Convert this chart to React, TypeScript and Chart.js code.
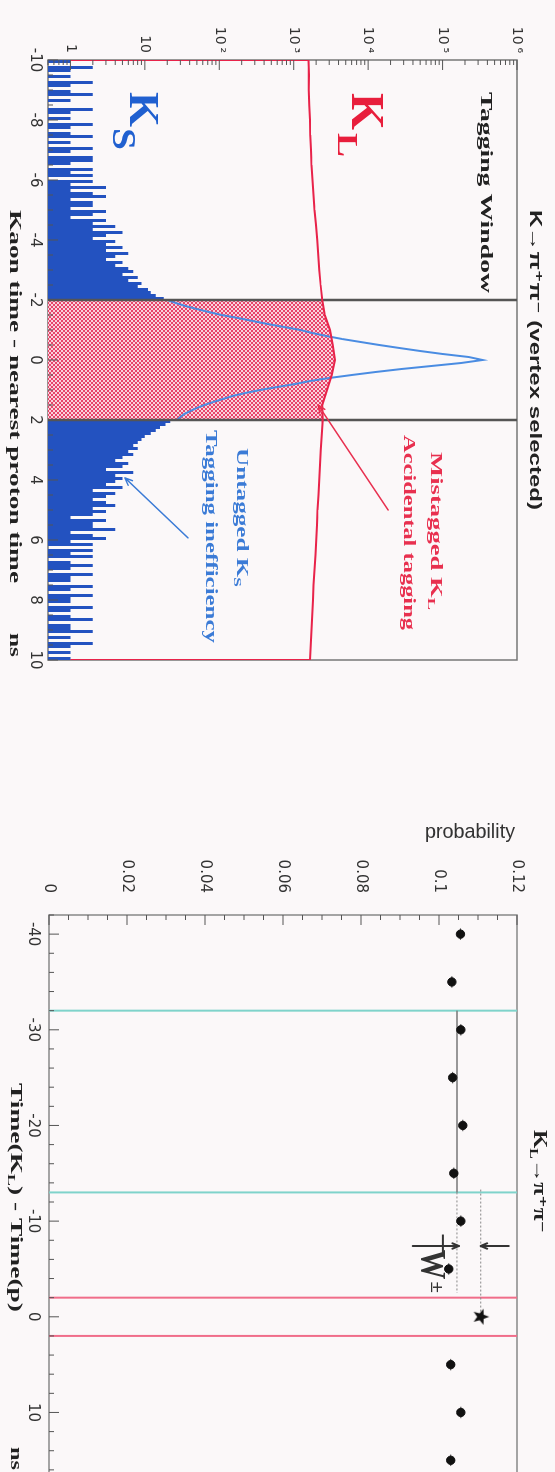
import React, { useEffect, useRef } from "react";
import { Chart, registerables } from "chart.js";
Chart.register(...registerables);

// ---------------- Top panel: K -> pi+ pi- (vertex selected) ----------------
const KS_BIN = 0.1;
const KS_LEFT_START = -10;
const KS_LEFT_COUNTS = [
  1, 0, 2, 1, 0, 1, 0, 2, 1, 0,
  1, 2, 0, 1, 0, 0, 2, 1, 0, 1,
  0, 2, 1, 0, 1, 2, 0, 1, 0, 2,
  1, 0, 2, 2, 1, 0, 2, 1, 2, 0,
  2, 1, 3, 1, 2, 3, 1, 2, 2, 1,
  3, 2, 1, 3, 2, 4, 2, 5, 3, 2,
  4, 3, 5, 3, 6, 4, 3, 5, 4, 6,
  7, 5, 8, 6, 9, 8, 11, 12, 14, 18,
];
const KS_RIGHT_START = 2;
const KS_RIGHT_COUNTS = [
  22, 19, 16, 14, 12, 10, 9, 8, 7, 8,
  6, 7, 5, 4, 6, 5, 3, 7, 4, 5,
  4, 3, 5, 2, 4, 3, 2, 3, 4, 2,
  3, 2, 1, 3, 2, 2, 4, 1, 2, 3,
  1, 2, 0, 2, 1, 2, 0, 1, 2, 1,
  0, 2, 1, 1, 0, 2, 1, 0, 2, 1,
  1, 0, 2, 1, 0, 1, 2, 0, 1, 1,
  2, 0, 1, 0, 2, 1, 0, 1, 0, 1,
];
const KS_PEAK_START = -2;
const KS_PEAK_STEP = 0.1;
const KS_PEAK_VALUES = [
  20, 26, 35, 50, 72, 107, 178, 282, 447, 741,
  1230, 1780, 2750, 4470, 7940, 14100, 26300, 50100, 100000, 224000,
  345000,
  178000, 70800, 28200, 12600, 6030, 3020, 1660, 1050, 603, 355,
  224, 151, 112, 83, 63, 50, 41, 34, 30, 27,
];
const KL_START = -10;
const KL_STEP = 0.5;
const KL_VALUES = [
  1580, 1600, 1590, 1620, 1650, 1670, 1710, 1740, 1790, 1840,
  1900, 1990, 2070, 2140, 2210, 2300, 2420, 2620, 3080, 3350,
  3580,
  3250, 2800, 2420, 2460, 2380, 2310, 2250, 2200, 2150, 2090,
  2060, 2010, 1960, 1900, 1850, 1810, 1770, 1730, 1700, 1660,
];
const WINDOW = [-2, 2];
const TOP_X_TICKS = [-10, -8, -6, -4, -2, 0, 2, 4, 6, 8, 10];
const TOP_Y_TICKS = [1, 10, 100, 1000, 10000, 100000, 1000000];
const TOP_Y_LABELS = ["1", "10", "10\u2009²", "10\u2009³", "10\u2009⁴", "10\u2009⁵", "10\u2009⁶"];
const LOG_MIN = 0.5;
const LOG_MAX = 1000000;

// ---------------- Bottom panel: KL -> pi+ pi- probability ----------------
const PROB_TIMES = [-40, -35, -30, -25, -20, -15, -10, -5, 5, 10, 15];
const PROB_VALUES = [0.1055, 0.1033, 0.1056, 0.1035, 0.1061, 0.1038, 0.1056, 0.1025, 0.103, 0.1056, 0.103];
const TIME_ERR = 0.6;
const STAR_TIME = 0;
const STAR_PROB = 0.1107;
const FIT_LEVEL = 0.1046;
const SIDEBAND = [-32, -13];
const SIGNAL = [-2, 2];
const BOT_X_TICKS = [-40, -30, -20, -10, 0, 10];
const BOT_Y_TICKS = [0, 0.02, 0.04, 0.06, 0.08, 0.1, 0.12];
const BOT_Y_LABELS = ["0", "0.02", "0.04", "0.06", "0.08", "0.1", "0.12"];

const SERIF = '"Liberation Serif", "DejaVu Serif", serif';
const SANS = '"Liberation Sans", "DejaVu Sans", sans-serif';
const TICKFONT = '"DejaVu Sans", "Liberation Sans", sans-serif';

type Seg = { t: string; size: number; dy?: number };

function drawRich(ctx: any, segs: Seg[], x0: number, x1: number, baseline: number, color: string, family: string, bold = true) {
  ctx.save();
  ctx.fillStyle = color;
  ctx.textBaseline = "alphabetic";
  ctx.textAlign = "left";
  const widths: number[] = [];
  let total = 0;
  for (const s of segs) {
    ctx.font = `${bold ? "bold " : ""}${s.size}px ${family}`;
    const w = ctx.measureText(s.t).width;
    widths.push(w);
    total += w;
  }
  const sx = (x1 - x0) / total;
  ctx.translate(x0, baseline);
  ctx.scale(sx, 1);
  let x = 0;
  segs.forEach((s, i) => {
    ctx.font = `${bold ? "bold " : ""}${s.size}px ${family}`;
    ctx.fillText(s.t, x, s.dy || 0);
    x += widths[i];
  });
  ctx.restore();
}

function drawArrow(ctx: any, x0: number, y0: number, x1: number, y1: number, color: string, width: number, head: number) {
  ctx.save();
  ctx.strokeStyle = color;
  ctx.lineWidth = width;
  ctx.lineCap = "round";
  ctx.beginPath();
  ctx.moveTo(x0, y0);
  ctx.lineTo(x1, y1);
  const a = Math.atan2(y1 - y0, x1 - x0);
  ctx.moveTo(x1, y1);
  ctx.lineTo(x1 - head * Math.cos(a - 0.4), y1 - head * Math.sin(a - 0.4));
  ctx.moveTo(x1, y1);
  ctx.lineTo(x1 - head * Math.cos(a + 0.4), y1 - head * Math.sin(a + 0.4));
  ctx.stroke();
  ctx.restore();
}

function drawInwardTicks(chart: any, xt: { v: number; major: boolean }[], yt: { v: number; major: boolean }[]) {
  const { ctx, chartArea: a, scales } = chart;
  const xs = scales.x;
  const ys = scales.y;
  ctx.save();
  ctx.strokeStyle = "#555";
  ctx.lineWidth = 1;
  ctx.beginPath();
  for (const t of xt) {
    const p = xs.getPixelForValue(t.v);
    if (p < a.left - 0.5 || p > a.right + 0.5) continue;
    const L = t.major ? 10 : 5;
    ctx.moveTo(p, a.bottom);
    ctx.lineTo(p, a.bottom - L);
  }
  for (const t of yt) {
    const p = ys.getPixelForValue(t.v);
    if (p < a.top - 0.5 || p > a.bottom + 0.5) continue;
    const L = t.major ? 10 : 5;
    ctx.moveTo(a.left, p);
    ctx.lineTo(a.left + L, p);
  }
  ctx.stroke();
  ctx.restore();
}

function drawFrame(chart: any, color: string) {
  const { ctx, chartArea: a } = chart;
  ctx.save();
  ctx.strokeStyle = color;
  ctx.lineWidth = 1.5;
  ctx.strokeRect(a.left, a.top, a.right - a.left, a.bottom - a.top);
  ctx.restore();
}

function makeHatch(ctx: any) {
  const c = document.createElement("canvas");
  c.width = 4;
  c.height = 4;
  const g = c.getContext("2d")!;
  g.fillStyle = "#f8d3dc";
  g.fillRect(0, 0, 4, 4);
  g.fillStyle = "#e8436a";
  g.fillRect(0, 0, 2, 2);
  g.fillRect(2, 2, 2, 2);
  return ctx.createPattern(c, "repeat");
}

function makeStar() {
  const c = document.createElement("canvas");
  c.width = 18;
  c.height = 18;
  const g = c.getContext("2d")!;
  g.fillStyle = "#111";
  g.beginPath();
  for (let i = 0; i < 10; i++) {
    const r = i % 2 === 0 ? 8.5 : 3.6;
    const a = -Math.PI / 2 + (i * Math.PI) / 5;
    g.lineTo(9 + r * Math.cos(a), 9 + r * Math.sin(a));
  }
  g.closePath();
  g.fill();
  return c;
}

const baseOptions = {
  animation: false,
  responsive: false,
  events: [],
  plugins: { legend: { display: false }, tooltip: { enabled: false } },
  elements: { point: { radius: 0 }, line: { tension: 0 } },
};

const noGrid = { display: false, drawTicks: false };

function buildTop(canvas: HTMLCanvasElement) {
  const ctx = canvas.getContext("2d")!;
  const hatch = makeHatch(ctx);
  const ksLeft = KS_LEFT_COUNTS.map((c, i) => ({ x: KS_LEFT_START + i * KS_BIN, y: c > 0 ? c : LOG_MIN }));
  ksLeft.push({ x: KS_LEFT_START + KS_LEFT_COUNTS.length * KS_BIN, y: ksLeft[ksLeft.length - 1].y });
  const ksRight = KS_RIGHT_COUNTS.map((c, i) => ({ x: KS_RIGHT_START + i * KS_BIN, y: c > 0 ? c : LOG_MIN }));
  ksRight.push({ x: KS_RIGHT_START + KS_RIGHT_COUNTS.length * KS_BIN, y: ksRight[ksRight.length - 1].y });
  const ksPeak = KS_PEAK_VALUES.map((v, i) => ({ x: KS_PEAK_START + i * KS_PEAK_STEP, y: v }));
  const kl = KL_VALUES.map((v, i) => ({ x: KL_START + i * KL_STEP, y: v }));
  const klLine = [{ x: kl[0].x, y: 1 }, ...kl, { x: kl[kl.length - 1].x, y: 1 }];
  const hatchData = kl.filter((p) => p.x >= WINDOW[0] - 1e-9 && p.x <= WINDOW[1] + 1e-9);

  const xt: { v: number; major: boolean }[] = [];
  for (let v = -10; v <= 10.001; v += 0.5) xt.push({ v, major: Math.abs(v / 2 - Math.round(v / 2)) < 1e-6 });
  const yt: { v: number; major: boolean }[] = [];
  for (let e = -1; e <= 5; e++) for (let m = 1; m <= 9; m++) {
    const v = m * Math.pow(10, e);
    if (v >= LOG_MIN && v <= LOG_MAX) yt.push({ v, major: m === 1 });
  }
  yt.push({ v: LOG_MAX, major: true });

  const decor = {
    id: "decorTop",
    beforeDatasetsDraw(chart: any) {
      drawFrame(chart, "#777");
    },
    afterDatasetsDraw(chart: any) {
      const c = chart.ctx;
      const xs = chart.scales.x;
      const ys = chart.scales.y;
      drawInwardTicks(chart, xt, yt);
      drawRich(c, [{ t: "K→π⁺π⁻ (vertex selected)", size: 17 }], 210, 510, 25, "#222", SANS);
      drawRich(c, [{ t: "Tagging Window", size: 17 }], 92, 293, 74, "#222", SERIF);
      drawRich(c, [{ t: "K", size: 47 }], 93, 130, 203, "#e81e3c", SERIF);
      drawRich(c, [{ t: "L", size: 29 }], 133, 157, 217, "#e81e3c", SERIF);
      drawRich(c, [{ t: "K", size: 42 }], 92, 127, 425, "#2060d0", SERIF);
      drawRich(c, [{ t: "S", size: 33 }], 128, 150, 442, "#2060d0", SERIF);
      drawRich(c, [{ t: "Mistagged K", size: 16 }, { t: "L", size: 11, dy: 3 }], 452, 610, 124, "#e8304f", SERIF);
      drawRich(c, [{ t: "Accidental tagging", size: 17 }], 435, 630, 151, "#e8304f", SERIF);
      drawRich(c, [{ t: "Untagged K", size: 16 }, { t: "S", size: 11, dy: 3 }], 448, 587, 318, "#3b7bd6", SERIF);
      drawRich(c, [{ t: "Tagging inefficiency", size: 17 }], 430, 643, 349, "#3b7bd6", SERIF);
      drawRich(c, [{ t: "Kaon time - nearest proton time", size: 17 }], 210, 583, 545, "#222", SERIF);
      drawRich(c, [{ t: "ns", size: 17 }], 633, 657, 545, "#222", SERIF);
      drawArrow(c, xs.getPixelForValue(5.0), ys.getPixelForValue(18600), xs.getPixelForValue(1.5), ys.getPixelForValue(2130), "#e8304f", 1.5, 8);
      drawArrow(c, xs.getPixelForValue(5.93), ys.getPixelForValue(38), xs.getPixelForValue(3.93), ys.getPixelForValue(5.4), "#3b7bd6", 1.5, 8);
    },
  };

  return new Chart(canvas, {
    type: "line",
    data: {
      datasets: [
        { data: klLine, borderColor: "#e8234a", borderWidth: 2, fill: false, order: 0 },
        { data: [{ x: WINDOW[0], y: LOG_MIN }, { x: WINDOW[0], y: LOG_MAX }], borderColor: "#555", borderWidth: 2.5, order: 1 },
        { data: [{ x: WINDOW[1], y: LOG_MIN }, { x: WINDOW[1], y: LOG_MAX }], borderColor: "#555", borderWidth: 2.5, order: 1 },
        { data: ksPeak, borderColor: "#4a8ce2", borderWidth: 2, fill: false, order: 2 },
        { data: hatchData, borderWidth: 0, borderColor: "rgba(0,0,0,0)", backgroundColor: hatch, fill: "start", order: 3 },
        { data: ksLeft, stepped: true, borderWidth: 0, borderColor: "rgba(0,0,0,0)", backgroundColor: "#2352c0", fill: "start", order: 4 },
        { data: ksRight, stepped: true, borderWidth: 0, borderColor: "rgba(0,0,0,0)", backgroundColor: "#2352c0", fill: "start", order: 4 },
      ],
    },
    options: {
      ...baseOptions,
      layout: { padding: { left: 0, right: 40, top: 38, bottom: 0 } },
      scales: {
        x: {
          type: "linear",
          min: -10,
          max: 10,
          grid: noGrid,
          border: { display: false },
          afterBuildTicks: (s: any) => { s.ticks = TOP_X_TICKS.map((v) => ({ value: v })); },
          afterFit: (s: any) => { s.height = 48; },
          ticks: { font: { family: TICKFONT, size: 15 }, color: "#333", padding: 4, maxRotation: 0, minRotation: 0, autoSkip: false, callback: (v: any) => String(v) },
        },
        y: {
          type: "logarithmic",
          min: LOG_MIN,
          max: LOG_MAX,
          grid: noGrid,
          border: { display: false },
          afterBuildTicks: (s: any) => { s.ticks = TOP_Y_TICKS.map((v) => ({ value: v })); },
          afterFit: (s: any) => { s.width = 60; },
          ticks: { font: { family: TICKFONT, size: 14 }, color: "#333", padding: 7, autoSkip: false, callback: (_v: any, i: number) => TOP_Y_LABELS[i] },
        },
      },
    },
    plugins: [decor],
  } as any);
}

function buildBottom(canvas: HTMLCanvasElement) {
  const star = makeStar();
  const dots = PROB_TIMES.map((t, i) => ({ x: t, y: PROB_VALUES[i] }));
  const errs: any[] = [];
  PROB_TIMES.forEach((t, i) => {
    errs.push({ x: t - TIME_ERR, y: PROB_VALUES[i] }, { x: t + TIME_ERR, y: PROB_VALUES[i] }, { x: t + TIME_ERR, y: null });
  });
  const xt: { v: number; major: boolean }[] = [];
  for (let v = -42; v <= 18; v += 2) xt.push({ v, major: v % 10 === 0 });
  const yt: { v: number; major: boolean }[] = [];
  for (let k = 0; k <= 24; k++) yt.push({ v: k * 0.005, major: k % 4 === 0 });

  const decor = {
    id: "decorBottom",
    beforeDatasetsDraw(chart: any) {
      drawFrame(chart, "#888");
    },
    afterDatasetsDraw(chart: any) {
      const c = chart.ctx;
      const xs = chart.scales.x;
      const ys = chart.scales.y;
      drawInwardTicks(chart, xt, yt);
      // y-axis title (upright on the page)
      c.save();
      c.translate(71, 85);
      c.rotate(-Math.PI / 2);
      drawRich(c, [{ t: "probability", size: 20 }], -45, 45, 7, "#333", SANS, false);
      c.restore();
      drawRich(c, [{ t: "K", size: 18 }, { t: "L", size: 12, dy: 4 }, { t: "→π⁺π⁻", size: 18 }], 370, 473, 21, "#222", SERIF);
      drawRich(c, [{ t: "Time(K", size: 17 }, { t: "L", size: 11, dy: 3 }, { t: ") - Time(p)", size: 17 }], 323, 552, 544, "#222", SERIF);
      drawRich(c, [{ t: "ns", size: 17 }], 687, 710, 544, "#222", SERIF);
      // W annotation
      const ax = xs.getPixelForValue(-7.4);
      drawArrow(c, ax, ys.getPixelForValue(0.0933), ax, ys.getPixelForValue(0.1051), "#333", 2, 7);
      drawArrow(c, ax, ys.getPixelForValue(0.1179), ax, ys.getPixelForValue(0.1107), "#333", 2, 7);
      c.save();
      c.strokeStyle = "#333";
      c.lineWidth = 2;
      c.beginPath();
      c.moveTo(xs.getPixelForValue(-8.6), ys.getPixelForValue(0.101));
      c.lineTo(xs.getPixelForValue(-6.3), ys.getPixelForValue(0.101));
      c.stroke();
      c.restore();
      drawRich(c, [{ t: "W", size: 35 }], xs.getPixelForValue(-7.0), xs.getPixelForValue(-3.9), ys.getPixelForValue(0.0953), "#333", SERIF);
      drawRich(c, [{ t: "±", size: 18 }], xs.getPixelForValue(-3.7), xs.getPixelForValue(-2.5), ys.getPixelForValue(0.0979), "#333", SERIF);
    },
  };

  const vline = (t: number, color: string) => ({
    data: [{ x: t, y: 0 }, { x: t, y: 0.12 }],
    borderColor: color,
    borderWidth: 2,
    order: 4,
  });

  return new Chart(canvas, {
    type: "line",
    data: {
      datasets: [
        { data: dots, showLine: false, pointRadius: 4.2, pointBackgroundColor: "#111", pointBorderColor: "#111", order: 0 },
        { data: [{ x: STAR_TIME, y: STAR_PROB }], showLine: false, pointStyle: star, pointRadius: 8, order: 0 },
        { data: errs, borderColor: "#444", borderWidth: 1, spanGaps: false, order: 1 },
        { data: [{ x: SIDEBAND[0], y: FIT_LEVEL }, { x: SIDEBAND[1], y: FIT_LEVEL }], borderColor: "#777", borderWidth: 1.5, order: 2 },
        { data: [{ x: SIDEBAND[1], y: FIT_LEVEL }, { x: -2.5, y: FIT_LEVEL }], borderColor: "#888", borderWidth: 1, borderDash: [2, 2], order: 2 },
        { data: [{ x: -13.3, y: STAR_PROB }, { x: STAR_TIME, y: STAR_PROB }], borderColor: "#888", borderWidth: 1, borderDash: [2, 2], order: 2 },
        vline(SIDEBAND[0], "#7fd3cb"),
        vline(SIDEBAND[1], "#7fd3cb"),
        vline(SIGNAL[0], "#f06d8a"),
        vline(SIGNAL[1], "#f06d8a"),
      ],
    },
    options: {
      ...baseOptions,
      layout: { padding: { left: 0, right: 61, top: 38, bottom: 0 } },
      scales: {
        x: {
          type: "linear",
          min: -42,
          max: 18,
          grid: noGrid,
          border: { display: false },
          afterBuildTicks: (s: any) => { s.ticks = BOT_X_TICKS.map((v) => ({ value: v })); },
          afterFit: (s: any) => { s.height = 49; },
          ticks: { font: { family: TICKFONT, size: 15 }, color: "#333", padding: 7, maxRotation: 0, minRotation: 0, autoSkip: false, callback: (v: any) => String(v) },
        },
        y: {
          type: "linear",
          min: 0,
          max: 0.12,
          grid: noGrid,
          border: { display: false },
          afterBuildTicks: (s: any) => { s.ticks = BOT_Y_TICKS.map((v) => ({ value: v })); },
          afterFit: (s: any) => { s.width = 155; },
          ticks: { font: { family: TICKFONT, size: 15 }, color: "#333", padding: 22, autoSkip: false, callback: (_v: any, i: number) => BOT_Y_LABELS[i] },
        },
      },
    },
    plugins: [decor],
  } as any);
}

export default function App() {
  const c1 = useRef<HTMLCanvasElement>(null);
  const c2 = useRef<HTMLCanvasElement>(null);
  useEffect(() => {
    const charts: any[] = [];
    if (c1.current) charts.push(buildTop(c1.current));
    if (c2.current) charts.push(buildBottom(c2.current));
    return () => charts.forEach((c) => c.destroy());
  }, []);
  const rot = { position: "absolute" as const, left: 0, transformOrigin: "0 0", transform: "translate(555px, 0px) rotate(90deg)" };
  return (
    <div style={{ position: "absolute", left: 0, top: 0, width: 555, height: 1472, overflow: "hidden", background: "#fbf8f9" }}>
      <div style={{ ...rot, top: 0, width: 700, height: 555 }}>
        <canvas ref={c1} width={700} height={555} style={{ width: 700, height: 555, display: "block" }} />
      </div>
      <div style={{ ...rot, top: 760, width: 790, height: 555 }}>
        <canvas ref={c2} width={790} height={555} style={{ width: 790, height: 555, display: "block" }} />
      </div>
    </div>
  );
}
